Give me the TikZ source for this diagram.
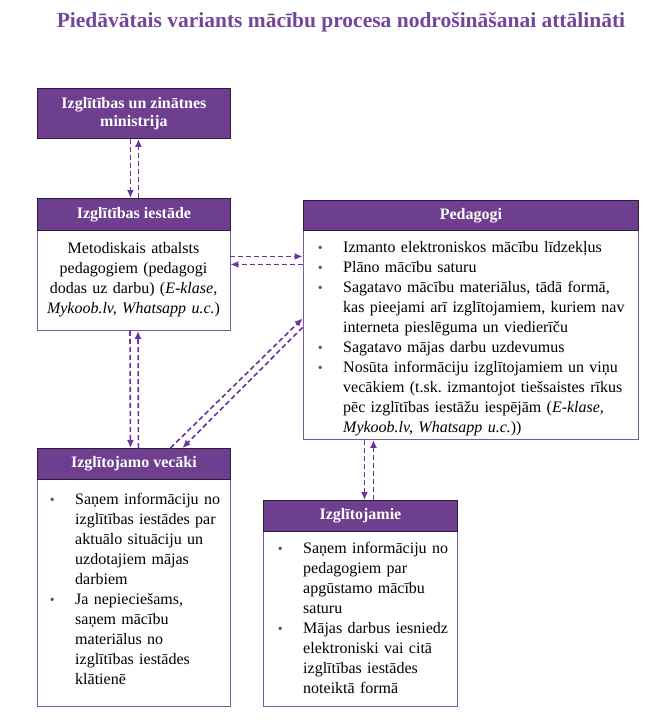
\documentclass[tikz,border=0pt]{standalone}
\usepackage{fontspec}
\setmainfont{Liberation Serif}
\usetikzlibrary{arrows.meta}
\frenchspacing
\definecolor{hdr}{RGB}{110,63,142}
\definecolor{hdrline}{RGB}{45,30,55}
\definecolor{bodyline}{RGB}{125,90,160}
\definecolor{arrc}{RGB}{112,48,160}
\definecolor{titlec}{RGB}{115,70,155}
\definecolor{bulc}{RGB}{112,64,150}
\newcommand{\bul}{\leavevmode\llap{\textcolor{bulc}{\fontsize{14}{14}\selectfont\textbullet}\hspace{20.5pt}}}
\begin{document}
\begin{tikzpicture}[x=1pt,y=-1pt,
  hdrbox/.style={rectangle, fill=hdr, draw=hdrline, line width=0.9pt, text=white,
    font=\fontsize{16}{18}\selectfont\bfseries, inner sep=0pt, anchor=north west, align=center},
  bodybox/.style={rectangle, draw=bodyline, line width=0.9pt, fill=white, inner sep=0pt, anchor=north},
  bodytext/.style={inner sep=0pt, font=\fontsize{16}{20}\selectfont\frenchspacing, align=left, anchor=north west, text width=310pt},
  arr/.style={draw=arrc, line width=1.6pt, dash pattern=on 5pt off 3pt, -{Latex[length=8pt,width=7pt]}}
]
\useasboundingbox (0,0) rectangle (653,722);

\node[font=\fontsize{21.5}{25}\selectfont\bfseries, text=titlec, anchor=base, inner sep=0pt] (title) at (341,28)
  {Piedāvātais variants mācību procesa nodrošināšanai attālināti};

% Ministry
\node[hdrbox, minimum width=193pt, minimum height=50pt] (min) at (37,88) {Izglītības un zinātnes\\ministrija};

% Iestade
\node[bodybox, minimum width=193pt, minimum height=100pt] (ibody) at (133.5,230) {};
\node[hdrbox, minimum width=193pt, minimum height=32pt] (ihead) at (37,198) {Izglītības iestāde};
\node[bodytext, anchor=north, text width=200pt, align=center] (itext) at (133.5,239)
  {\strut Metodiskais atbalsts\\pedagogiem (pedagogi\\dodas uz darbu) (\textit{E-klase,}\\\textit{Mykoob.lv, Whatsapp u.c.})};

% Pedagogi
\node[bodybox, minimum width=335pt, minimum height=209pt] (pbody) at (470.5,230) {};
\node[hdrbox, minimum width=335pt, minimum height=30pt] (phead) at (303,200) {Pedagogi};
\node[bodytext] (ptext) at (343,238)
  {\noindent\strut\bul Izmanto elektroniskos mācību līdzekļus\\
   \bul Plāno mācību saturu\\
   \bul Sagatavo mācību materiālus, tādā formā,\\
   kas pieejami arī izglītojamiem, kuriem nav\\
   interneta pieslēguma un viedierīču\\
   \bul Sagatavo mājas darbu uzdevumus\\
   \bul Nosūta informāciju izglītojamiem un viņu\\
   vecākiem (t.sk. izmantojot tiešsaistes rīkus\\
   pēc izglītības iestāžu iespējām (\textit{E-klase,}\\
   \textit{Mykoob.lv, Whatsapp u.c.}))};

% Vecaki
\node[bodybox, minimum width=193pt, minimum height=227pt] (vbody) at (133.5,479) {};
\node[hdrbox, minimum width=193pt, minimum height=31pt] (vhead) at (37,448) {Izglītojamo vecāki};
\node[bodytext] (vtext) at (75,490)
  {\noindent\strut\bul Saņem informāciju no\\
   izglītības iestādes par\\
   aktuālo situāciju un\\
   uzdotajiem mājas\\
   darbiem\\
   \bul Ja nepieciešams,\\
   saņem mācību\\
   materiālus no\\
   izglītības iestādes\\
   klātienē};

% Izglitojamie
\node[bodybox, minimum width=194pt, minimum height=175pt] (zbody) at (360,531) {};
\node[hdrbox, minimum width=194pt, minimum height=31pt] (zhead) at (263,500) {Izglītojamie};
\node[bodytext] (ztext) at (303,539)
  {\noindent\strut\bul Saņem informāciju no\\
   pedagogiem par\\
   apgūstamo mācību\\
   saturu\\
   \bul Mājas darbus iesniedz\\
   elektroniski vai citā\\
   izglītības iestādes\\
   noteiktā formā};

% Connectors
\draw[arr] ([xshift=-3.5pt]min.south) -- ([xshift=-3.5pt]ihead.north);
\draw[arr] ([xshift=4.5pt]ihead.north) -- ([xshift=4.5pt]min.south);

\draw[arr] ([xshift=-3.5pt]ibody.south) -- ([xshift=-3.5pt]vhead.north);
\draw[arr] ([xshift=4.5pt]vhead.north) -- ([xshift=4.5pt]ibody.south);

\coordinate (h1) at ([yshift=24pt]ibody.east);
\coordinate (h2) at ([yshift=16pt]ibody.east);
\draw[arr] (h1) -- (h1 -| pbody.west);
\draw[arr] (h2 -| pbody.west) -- (h2);

\draw[arr] ([xshift=36.5pt]vhead.north) -- ([yshift=16.5pt]pbody.west);
\draw[arr] ([yshift=7.5pt]pbody.west) -- ([xshift=48.5pt]vhead.north);

\coordinate (z1) at ([xshift=4pt]zhead.north);
\coordinate (z2) at ([xshift=13pt]zhead.north);
\draw[arr] (z1 |- pbody.south) -- (z1);
\draw[arr] (z2) -- (z2 |- pbody.south);
\end{tikzpicture}
\end{document}
